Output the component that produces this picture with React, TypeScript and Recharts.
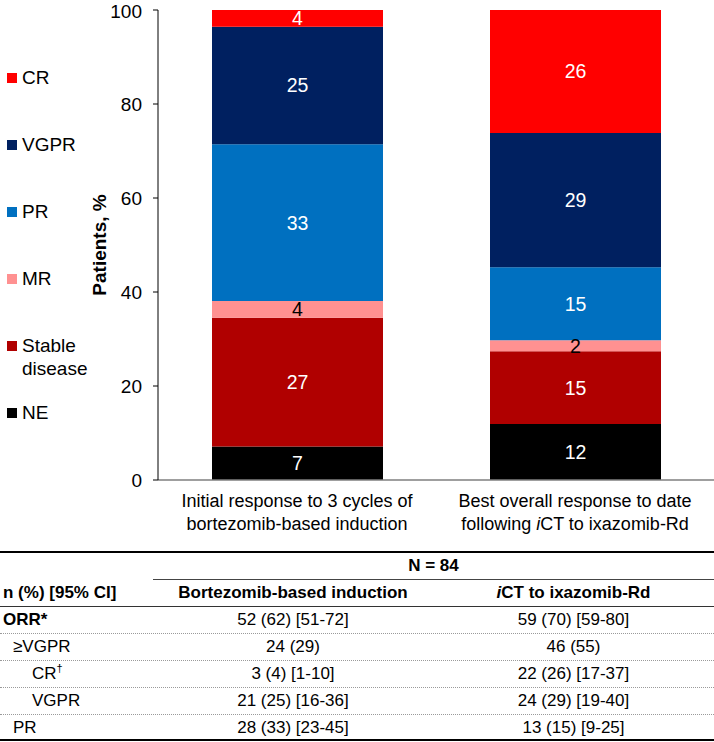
import React from "react";
import { BarChart, Bar, XAxis, YAxis, LabelList, Label } from "recharts";

// response categories (one bar each)
const categories = ["induction", "ixazomib"];
const xTickLines = [
  ["Initial response to 3 cycles of", "bortezomib-based induction"],
  ["Best overall response to date", "following iCT to ixazomib-Rd"],
];

// % of patients, N = 84
const neValues = [7.14, 11.9];
const stableValues = [27.38, 15.48];
const mrValues = [3.57, 2.38];
const prValues = [33.33, 15.48];
const vgprValues = [25.0, 28.57];
const crValues = [3.57, 26.19];
const yTicks = [0, 20, 40, 60, 80, 100];

// table under the chart
const tableTitle = "N = 84";
const tableHeaders = ["n (%) [95% CI]", "Bortezomib-based induction", "iCT to ixazomib-Rd"];
const tableRowLabels = ["ORR*", "≥VGPR", "CR†", "VGPR", "PR"];
const inductionCol = ["52 (62) [51-72]", "24 (29)", "3 (4) [1-10]", "21 (25) [16-36]", "28 (33) [23-45]"];
const ixazomibCol = ["59 (70) [59-80]", "46 (55)", "22 (26) [17-37]", "24 (29) [19-40]", "13 (15) [9-25]"];

// stacking order, bottom to top
const series = [
  { key: "ne", name: "NE", values: neValues, color: "#000000", text: "#ffffff" },
  { key: "sd", name: "Stable disease", values: stableValues, color: "#b00000", text: "#ffffff" },
  { key: "mr", name: "MR", values: mrValues, color: "#ff9191", text: "#000000" },
  { key: "pr", name: "PR", values: prValues, color: "#0070c0", text: "#ffffff" },
  { key: "vgpr", name: "VGPR", values: vgprValues, color: "#002060", text: "#ffffff" },
  { key: "cr", name: "CR", values: crValues, color: "#ff0000", text: "#ffffff" },
];

const data = categories.map((c, i) => {
  const row: Record<string, any> = { category: c, idx: i };
  series.forEach((s) => (row[s.key] = s.values[i]));
  return row;
});

const FONT = '"Liberation Sans", Arial, sans-serif';
const indents = [3, 13, 32, 32, 13];

function withItalic(line: string) {
  const at = line.indexOf("iCT");
  if (at < 0) return line;
  return (
    <>
      {line.slice(0, at)}
      <tspan fontStyle="italic">i</tspan>
      {line.slice(at + 1)}
    </>
  );
}

function withItalicHtml(line: string) {
  const at = line.indexOf("iCT");
  if (at < 0) return line;
  return (
    <>
      {line.slice(0, at)}
      <i>i</i>
      {line.slice(at + 1)}
    </>
  );
}

function XTick(props: any) {
  const { x, y, payload } = props;
  const lines = xTickLines[payload.index] || [];
  return (
    <g transform={`translate(${x},${y})`}>
      <text textAnchor="middle" fontSize={18} fill="#000" fontFamily={FONT}>
        {lines.map((l, i) => (
          <tspan key={i} x={0} dy={i === 0 ? 19 : 23}>
            {withItalic(l)}
          </tspan>
        ))}
      </text>
    </g>
  );
}

function YTitle(props: any) {
  const vb = props.viewBox || { x: 0, y: 10, width: 158, height: 470 };
  const cx = vb.x + 106;
  const cy = vb.y + vb.height / 2;
  return (
    <text
      x={cx}
      y={cy}
      transform={`rotate(-90, ${cx}, ${cy})`}
      textAnchor="middle"
      fontSize={19}
      fontWeight="bold"
      fill="#000"
      fontFamily={FONT}
    >
      Patients, %
    </text>
  );
}

function LegendBlock() {
  const items = [...series].reverse();
  return (
    <div style={{ position: "absolute", left: 0, top: 66, fontSize: 19, lineHeight: "23px" }}>
      {items.map((s) => (
        <div key={s.key} style={{ position: "relative", height: 67, width: 120 }}>
          <div
            style={{ position: "absolute", left: 7, top: 7, width: 10, height: 10, background: s.color }}
          />
          <div style={{ position: "absolute", left: 22, top: 0, width: 90 }}>
            {s.name === "Stable disease" ? (
              <>
                Stable
                <br />
                disease
              </>
            ) : (
              s.name
            )}
          </div>
        </div>
      ))}
    </div>
  );
}

function RowLabel({ text }: { text: string }) {
  if (text.endsWith("†")) {
    return (
      <>
        {text.slice(0, -1)}
        <sup style={{ fontSize: 11, lineHeight: 0 }}>†</sup>
      </>
    );
  }
  return <>{text}</>;
}

function ResultsTable() {
  const rowH = 27;
  return (
    <div
      style={{
        position: "absolute",
        left: 0,
        top: 551,
        width: 714,
        borderTop: "2px solid #000",
        fontSize: 17,
        color: "#000",
      }}
    >
      <div style={{ display: "flex", height: rowH }}>
        <div style={{ width: 153 }} />
        <div
          style={{
            width: 561,
            boxSizing: "border-box",
            borderBottom: "1px solid #444",
            textAlign: "center",
            fontWeight: "bold",
            lineHeight: `${rowH - 1}px`,
          }}
        >
          {tableTitle}
        </div>
      </div>
      <div
        style={{
          display: "flex",
          height: rowH,
          boxSizing: "border-box",
          borderBottom: "1.5px solid #333",
          fontWeight: "bold",
          lineHeight: `${rowH - 1}px`,
        }}
      >
        <div style={{ width: 153, paddingLeft: 3, boxSizing: "border-box" }}>{tableHeaders[0]}</div>
        <div style={{ width: 280, textAlign: "center" }}>{tableHeaders[1]}</div>
        <div style={{ width: 281, textAlign: "center" }}>{withItalicHtml(tableHeaders[2])}</div>
      </div>
      {tableRowLabels.map((label, i) => {
        const last = i === tableRowLabels.length - 1;
        return (
          <div
            key={label + i}
            style={{
              display: "flex",
              height: last ? rowH - 1 : rowH,
              boxSizing: "border-box",
              borderBottom: last ? "2px solid #000" : "1px dotted #9a9a9a",
              lineHeight: `${rowH - 1}px`,
            }}
          >
            <div
              style={{
                width: 153,
                paddingLeft: indents[i],
                boxSizing: "border-box",
                fontWeight: i === 0 ? "bold" : "normal",
              }}
            >
              <RowLabel text={label} />
            </div>
            <div style={{ width: 280, textAlign: "center" }}>{inductionCol[i]}</div>
            <div style={{ width: 281, textAlign: "center" }}>{ixazomibCol[i]}</div>
          </div>
        );
      })}
    </div>
  );
}

export default function App() {
  return (
    <div
      style={{
        position: "absolute",
        left: 0,
        top: 0,
        width: 714,
        height: 742,
        background: "#fff",
        fontFamily: FONT,
        overflow: "hidden",
      }}
    >
      <BarChart
        width={714}
        height={545}
        data={data}
        margin={{ top: 10, right: 0, bottom: 5, left: 0 }}
        barSize={171}
      >
        <XAxis
          dataKey="category"
          tick={<XTick />}
          tickLine={false}
          axisLine={{ stroke: "#7f7f7f", strokeWidth: 1.5 }}
          height={60}
          interval={0}
        />
        <YAxis
          width={158}
          domain={[0, 100]}
          ticks={yTicks}
          allowDataOverflow
          tickSize={5}
          tickMargin={11}
          axisLine={{ stroke: "#000" }}
          tickLine={{ stroke: "#000" }}
          tick={{ fill: "#000", fontSize: 19, fontFamily: FONT }}
        >
          <Label content={<YTitle />} />
        </YAxis>
        {series.map((s) => (
          <Bar key={s.key} dataKey={s.key} stackId="a" fill={s.color} isAnimationActive={false}>
            <LabelList
              dataKey={s.key}
              position="center"
              fill={s.text}
              fontSize={19.5}
              fontFamily={FONT}
              formatter={(v: any) => Math.round(Number(v))}
            />
          </Bar>
        ))}
      </BarChart>
      <LegendBlock />
      <ResultsTable />
    </div>
  );
}
